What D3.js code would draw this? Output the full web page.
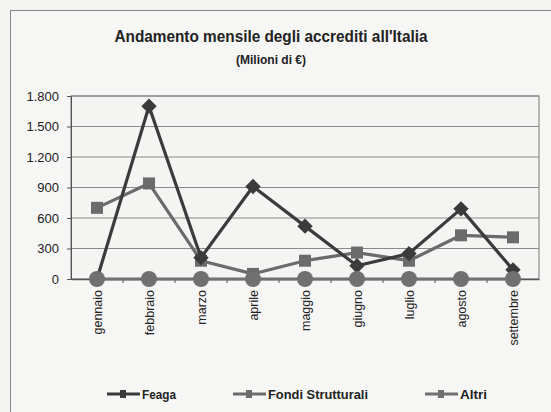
<!DOCTYPE html>
<html>
<head>
<meta charset="utf-8">
<script src="https://cdn.jsdelivr.net/npm/d3@7"></script>
<style>
  body { margin: 0; background: #f3f3f1; }
  svg { display: block; }
  text { font-family: "Liberation Sans", Arial, sans-serif; fill: #222; }
</style>
</head>
<body>
<div id="chart"></div>
<script>
var months = ['gennaio', 'febbraio', 'marzo', 'aprile', 'maggio', 'giugno', 'luglio', 'agosto', 'settembre'];
var feaga = [0, 1700, 210, 910, 520, 130, 250, 690, 90];
var fondi = [700, 940, 180, 50, 180, 260, 180, 430, 410];
var altri = [0, 0, 0, 0, 0, 0, 0, 0, 0];
var yTicks = [0, 300, 600, 900, 1200, 1500, 1800];
var seriesNames = ['Feaga', 'Fondi Strutturali', 'Altri'];

var width = 551, height = 412;
var plot = { left: 71, right: 539, top: 96, bottom: 279 };

var svg = d3.select('#chart').append('svg')
    .attr('width', width).attr('height', height);

// outer frame
svg.append('rect')
    .attr('x', 10.5).attr('y', 10.5)
    .attr('width', 560).attr('height', 420)
    .attr('fill', '#f6f6f4').attr('stroke', '#888').attr('stroke-width', 1);

var x = d3.scalePoint().domain(months).range([plot.left, plot.right]).padding(0.5);
var y = d3.scaleLinear().domain([0, 1800]).range([plot.bottom, plot.top]);

// plot area
svg.append('rect')
    .attr('x', plot.left).attr('y', plot.top)
    .attr('width', plot.right - plot.left).attr('height', plot.bottom - plot.top)
    .attr('fill', '#f4f4f2').attr('stroke', '#777').attr('stroke-width', 1);

// gridlines
svg.selectAll('.grid')
    .data(yTicks.slice(1))
    .enter().append('line')
    .attr('x1', plot.left).attr('x2', plot.right)
    .attr('y1', function (d) { return y(d); })
    .attr('y2', function (d) { return y(d); })
    .attr('stroke', '#8a8a8a').attr('stroke-width', 1);

// y axis
var yAxis = svg.append('g')
    .attr('transform', 'translate(' + plot.left + ',0)')
    .call(d3.axisLeft(y).tickValues(yTicks).tickSize(4).tickPadding(8)
        .tickFormat(function (d) { return d3.format(',')(d).replace(/,/g, '.'); }));
yAxis.select('.domain').attr('stroke', '#555');
yAxis.selectAll('.tick line').attr('stroke', '#555');
yAxis.selectAll('text').style('font-size', '13px').attr('fill', '#222');

// x axis
var xAxis = svg.append('g')
    .attr('transform', 'translate(0,' + plot.bottom + ')')
    .call(d3.axisBottom(x).tickSize(0).tickPadding(8));
xAxis.select('.domain').attr('stroke', '#555').attr('stroke-width', 1.5);
xAxis.selectAll('text')
    .style('font-size', '12.5px')
    .attr('transform', 'rotate(-90)')
    .attr('text-anchor', 'end')
    .attr('x', -11).attr('y', 0)
    .attr('dy', '0.35em')
    .attr('fill', '#222');
// small ticks between categories
var step = x.step();
svg.selectAll('.xtick')
    .data(months.slice(1))
    .enter().append('line')
    .attr('x1', function (d) { return x(d) - step / 2; })
    .attr('x2', function (d) { return x(d) - step / 2; })
    .attr('y1', plot.bottom).attr('y2', plot.bottom + 4)
    .attr('stroke', '#555');

var line = d3.line()
    .x(function (d, i) { return x(months[i]); })
    .y(function (d) { return y(d); });

var colors = { feaga: '#3b3b3b', fondi: '#6b6b6b', altri: '#707070' };

function drawLine(data, color) {
    svg.append('path')
        .datum(data)
        .attr('d', line)
        .attr('fill', 'none')
        .attr('stroke', color)
        .attr('stroke-width', 3.2)
        .attr('stroke-linejoin', 'round');
}

drawLine(fondi, colors.fondi);
drawLine(feaga, colors.feaga);
drawLine(altri, colors.altri);

// markers
svg.selectAll('.m-fondi')
    .data(fondi).enter().append('rect')
    .attr('x', function (d, i) { return x(months[i]) - 6; })
    .attr('y', function (d) { return y(d) - 6; })
    .attr('width', 12).attr('height', 12)
    .attr('fill', colors.fondi);

svg.selectAll('.m-feaga')
    .data(feaga).enter().append('path')
    .attr('d', d3.symbol().type(d3.symbolDiamond2).size(150))
    .attr('transform', function (d, i) { return 'translate(' + x(months[i]) + ',' + y(d) + ')'; })
    .attr('fill', colors.feaga);

svg.selectAll('.m-altri')
    .data(altri).enter().append('circle')
    .attr('cx', function (d, i) { return x(months[i]); })
    .attr('cy', function (d) { return y(d); })
    .attr('r', 8)
    .attr('fill', colors.altri);

// titles (narrow face in the original, so squeeze the glyphs)
svg.append('text')
    .attr('x', 271).attr('y', 42)
    .attr('text-anchor', 'middle')
    .attr('textLength', 313).attr('lengthAdjust', 'spacingAndGlyphs')
    .style('font-size', '17px').style('font-weight', 'bold')
    .text("Andamento mensile degli accrediti all'Italia");
svg.append('text')
    .attr('x', 271).attr('y', 64)
    .attr('text-anchor', 'middle')
    .attr('textLength', 70).attr('lengthAdjust', 'spacingAndGlyphs')
    .style('font-size', '12px').style('font-weight', 'bold')
    .text('(Milioni di €)');

// legend
var legendX = [107, 233, 425];
var legendTextW = [34, 100, 27];
var legendColors = [colors.feaga, colors.fondi, colors.altri];
var legend = svg.selectAll('.legend')
    .data(seriesNames).enter().append('g')
    .attr('transform', function (d, i) { return 'translate(' + legendX[i] + ',394)'; });
legend.append('line')
    .attr('x1', 0).attr('x2', 33).attr('y1', 0).attr('y2', 0)
    .attr('stroke', function (d, i) { return legendColors[i]; })
    .attr('stroke-width', 3.2);
legend.append('rect')
    .attr('x', 13).attr('y', -4).attr('width', 6).attr('height', 8)
    .attr('fill', function (d, i) { return legendColors[i]; });
legend.append('text')
    .attr('x', 35).attr('y', 5)
    .attr('textLength', function (d, i) { return legendTextW[i]; })
    .attr('lengthAdjust', 'spacingAndGlyphs')
    .style('font-size', '13px').style('font-weight', 'bold')
    .text(function (d) { return d; });
</script>
</body>
</html>
